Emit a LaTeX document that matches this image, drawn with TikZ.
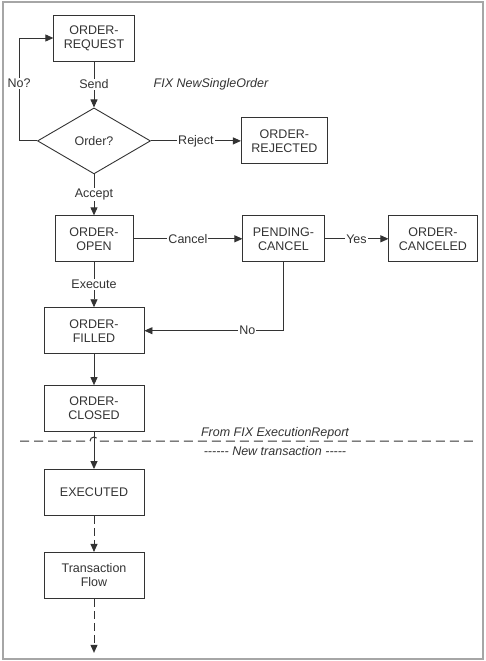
\documentclass[tikz,border=0pt]{standalone}
\usepackage{fontspec}
\setmainfont{Liberation Sans}
\usetikzlibrary{positioning, arrows.meta, shapes.geometric, calc}
\definecolor{ink}{gray}{0.2}
\newcommand{\hyrun}{-\kern0pt}

\begin{document}
\begin{tikzpicture}[x=1pt, y=1pt, font=\fontsize{12.5}{14}\selectfont, >={Triangle[length=8pt, width=7pt]},
  line width=0.9pt, color=ink,
  state/.style={draw=ink, align=center, minimum width=78pt, minimum height=46pt, inner xsep=10pt},
  widestate/.style={state, minimum width=100pt},
  decide/.style={draw=ink, diamond, aspect=1.7, inner sep=0pt, minimum width=113pt, minimum height=66pt},
  lbl/.style={fill=white, inner sep=1pt},
  note/.style={font=\fontsize{12.5}{14}\selectfont\itshape},
  dashedarrow/.style={->, dash pattern=on 8pt off 4pt},
  sepline/.style={draw=ink, line width=1pt, dash pattern=on 9pt off 5pt}]
  \useasboundingbox (0,0) rectangle (485,-661);
  \draw[gray!70, line width=2pt] (2.5,-2) rectangle (483,-658.5);
  % order states
  \node[state] (req) at (94,-38) {ORDER-\\REQUEST};
  \node[decide, below=46pt of req] (dec) {Order?};
  \node[state, right=90pt of dec] (rej) {ORDER-\\REJECTED};
  \node[state, below=41pt of dec] (open) {ORDER-\\OPEN};
  \node[state, right=109pt of open] (pend) {PENDING-\\CANCEL};
  \node[state, right=64pt of pend] (canc) {ORDER-\\CANCELED};
  \node[widestate, below=45pt of open] (filled) {ORDER-\\FILLED};
  \node[widestate, below=31pt of filled] (closed) {ORDER-\\CLOSED};
  \node[widestate, below=37pt of closed] (exec) {EXECUTED};
  \node[widestate, below=36pt of exec] (trans) {Transaction\\Flow};
  \coordinate[below=54pt of trans] (tail);
  \node[note] (fixnew) at (211,-84) {FIX NewSingleOrder};
  % transitions
  \draw[->] (req) -- node[lbl] {Send} (dec);
  \draw[->] (dec) -- node[lbl] {Reject} (rej);
  \draw[->] (dec) -- node[lbl] {Accept} (open);
  \draw[->] (dec.west) -- ++(-18,0) |- node[lbl, pos=0.28] {No?} (req.west);
  \draw[->] (open) -- node[lbl] {Cancel} (pend);
  \draw[->] (pend) -- node[lbl] {Yes} (canc);
  \draw[->] (open) -- node[lbl] {Execute} (filled);
  \draw[->] (pend.south) |- node[lbl, pos=0.63] {No} (filled.east);
  \draw[->] (filled) -- (closed);
  \draw[->] (closed) -- (exec);
  \draw[dashedarrow] (exec) -- (trans);
  \draw[dashedarrow] (trans) -- (tail);
  % transaction boundary
  \coordinate (sepL) at (20,-441);
  \coordinate (sepR) at (473,-441);
  \draw[sepline] (sepL) -- ($(closed.south |- sepL)+(-4,0)$) arc[start angle=180, end angle=0, radius=4] -- (sepR);
  \node[note] (fromfix) at (275,-433) {From FIX ExecutionReport};
  \node[note] (newtx) at (275,-451) {\hyrun\hyrun\hyrun\hyrun\hyrun\hyrun{} New transaction \hyrun\hyrun\hyrun\hyrun\hyrun};
\end{tikzpicture}
\end{document}
